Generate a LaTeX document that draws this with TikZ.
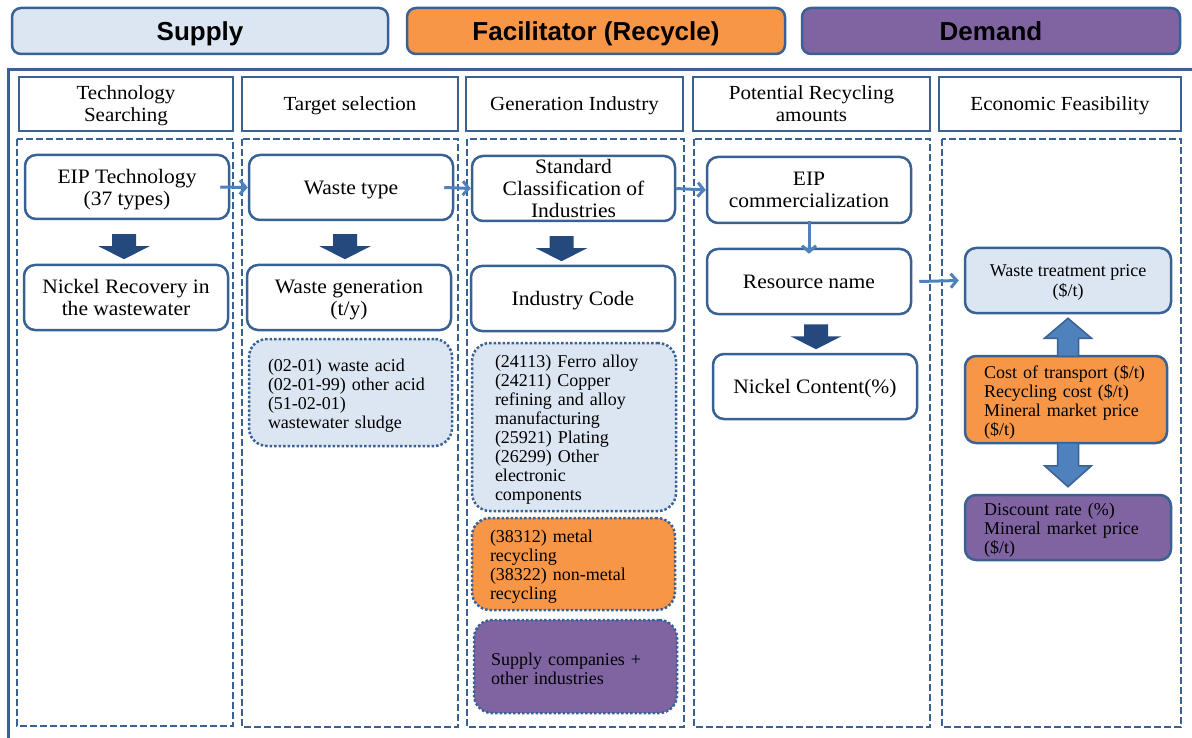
\documentclass[tikz,border=0pt]{standalone}
\usepackage{fontspec}
\setmainfont{Liberation Serif}
\setsansfont{Liberation Sans}
\newfontfamily\bigserif[FakeStretch=1.05]{Liberation Serif}
\usetikzlibrary{arrows.meta,calc}
\definecolor{bdr}{HTML}{3A6194}
\definecolor{lblue}{HTML}{DCE6F2}
\definecolor{orng}{HTML}{F79646}
\definecolor{purp}{HTML}{8064A2}
\definecolor{midblue}{HTML}{4F81BD}
\definecolor{navyc}{HTML}{23497D}
\newcommand\navydown[1]{\fill[navyc] #1 ++(-12,0) -- ++(24,0) -- ++(0,12) -- ++(13.5,0) -- ++(-25.5,13) -- ++(-25.5,-13) -- ++(13.5,0) -- cycle;}
\tikzset{
  hdr/.style={draw=bdr, line width=2.5pt, rounded corners=9pt, inner sep=0pt, text depth=0pt, font=\sffamily\bfseries\fontsize{26}{28}\selectfont},
  colhead/.style={draw=bdr, line width=2.5pt, fill=white, inner sep=0pt, text depth=0pt, align=center, font=\bigserif\fontsize{20}{22}\selectfont},
  colbox/.style={draw=bdr, line width=2pt, dash pattern=on 7pt off 3pt},
  rbox/.style={draw=bdr, line width=2.5pt, rounded corners=11pt, fill=white, inner sep=0pt, text depth=0pt, align=center, font=\bigserif\fontsize{20.5}{22}\selectfont},
  sbox/.style={draw=bdr, line width=2.5pt, rounded corners=11pt, inner sep=0pt, font=\fontsize{18}{19}\selectfont},
  lbox/.style={draw=bdr, line width=2.5pt, dash pattern=on 2.5pt off 2pt, rounded corners=18pt, font=\fontsize{18}{19}\selectfont, align=left},
  flowarr/.style={color=midblue, line width=3pt, -{Straight Barb[length=6pt,width=14pt]}},
  barrow/.style={fill=midblue, draw=bdr, line width=1.5pt},
  frame/.style={draw=bdr, line width=3pt}
}
\begin{document}
\begin{tikzpicture}[x=1pt,y=-1pt]
\useasboundingbox (0,0) rectangle (1192,738);
% top headers
\node[hdr, fill=lblue, minimum width=376, minimum height=46] (sup) at (200,31) {Supply};
\node[hdr, fill=orng, minimum width=378, minimum height=46] (fac) at (596,31) {Facilitator (Recycle)};
\node[hdr, fill=purp, minimum width=378, minimum height=46] (dem) at (991,31) {Demand};
% outer frame
\draw[frame] (1194,70) -- (8,70) -- (8,740);
% column headers
\node[colhead, minimum width=214, minimum height=54] (h1) at (126,104) {Technology\\Searching};
\node[colhead, minimum width=216, minimum height=54] (h2) at (350,104) {Target selection};
\node[colhead, minimum width=217, minimum height=54] (h3) at (574.5,104) {Generation Industry};
\node[colhead, minimum width=237, minimum height=54] (h4) at (811.5,104) {Potential Recycling\\amounts};
\node[colhead, minimum width=242, minimum height=54] (h5) at (1060,104) {Economic Feasibility};
% dashed columns
\draw[colbox] (17,139) rectangle (233,726);
\draw[colbox] (242,139) rectangle (458,727);
\draw[colbox] (467,139) rectangle (684,727);
\draw[colbox] (694,139) rectangle (930,727);
\draw[colbox] (942,139) rectangle (1181,727);
% column 1
\node[rbox, minimum width=204, minimum height=64] (eip) at (127,187) {EIP Technology\\(37 types)};
\node[rbox, minimum width=204, minimum height=65] (nick) at (126,297.5) {Nickel Recovery in\\the wastewater};
% column 2
\node[rbox, minimum width=204, minimum height=65] (wtype) at (351,187.5) {Waste type};
\node[rbox, minimum width=204, minimum height=65] (wgen) at (349,297.5) {Waste generation\\(t/y)};
\node[lbox, fill=lblue, minimum width=203, minimum height=107, text width=165, text depth=55pt] (wlist) at (350.5,392.5)
 {(02-01) waste acid\\(02-01-99) other acid\\(51-02-01)\\wastewater sludge};
% column 3
\node[rbox, minimum width=203, minimum height=65] (sci) at (573.5,188.5) {Standard\\Classification of\\Industries};
\node[rbox, minimum width=204, minimum height=65] (icode) at (573,298.5) {Industry Code};
\node[lbox, fill=lblue, minimum width=204, minimum height=168, text width=158, text depth=131pt] (ilist) at (574,427)
 {(24113) Ferro alloy\\(24211) Copper\\refining and alloy\\manufacturing\\(25921) Plating\\(26299) Other\\electronic\\components};
\node[lbox, fill=orng, minimum width=203, minimum height=92, text width=167, text depth=55pt] (olist) at (573.5,564)
 {(38312) metal\\recycling\\(38322) non-metal\\recycling};
\node[lbox, fill=purp, minimum width=203, minimum height=93, text width=169, text depth=14pt] (plist) at (575.5,666.5)
 {Supply companies +\\other industries};
% column 4
\node[rbox, minimum width=204, minimum height=66] (eipc) at (809,190) {EIP\\commercialization};
\node[rbox, minimum width=204, minimum height=65] (rname) at (809,281.5) {Resource name};
\node[rbox, minimum width=204, minimum height=65] (ncont) at (815,386.5) {Nickel Content(\%)};
% column 5
\node[sbox, fill=lblue, minimum width=206, minimum height=65, align=center, text depth=0pt, font=\fontsize{18}{20}\selectfont] (wtp) at (1068,280.5) {Waste treatment price\\(\$/t)};
\node[sbox, fill=orng, minimum width=202, minimum height=87, align=left, text width=164, text depth=55pt] (cost) at (1066,399.5)
 {Cost of transport (\$/t)\\Recycling cost (\$/t)\\Mineral market price\\(\$/t)};
\node[sbox, fill=purp, minimum width=206, minimum height=65, align=left, text width=168, text depth=36pt] (disc) at (1068,527.5)
 {Discount rate (\%)\\Mineral market price\\(\$/t)};
% navy block arrows
\navydown{($(eip.south)+(-3,14)$)}
\navydown{($(wtype.south)+(-6,13)$)}
\navydown{($(sci.south)+(-12,14)$)}
\navydown{($(rname.south)+(7,9)$)}
% flow arrows
\draw[flowarr] ([xshift=-10]eip.east) -- (wtype.west);
\draw[flowarr] ([xshift=-10]wtype.east) -- (sci.west);
\draw[flowarr] (sci.east) -- (eipc.west);
\draw[flowarr] ([yshift=3]eipc.south) -- ([yshift=-6]rname.north);
\draw[flowarr] ([xshift=7]rname.east) -- ([xshift=-5]wtp.west);
% economic double arrows
\draw[barrow] ($(wtp.south)+(0,4)$) -- ++(23.5,20) -- ++(-13,0) -- ++(0,18) -- ++(-21,0) -- ++(0,-18) -- ++(-13,0) -- cycle;
\draw[barrow] ($(disc.north)+(0,-7)$) -- ++(23.5,-21) -- ++(-13,0) -- ++(0,-23) -- ++(-21,0) -- ++(0,23) -- ++(-13,0) -- cycle;
\end{tikzpicture}
\end{document}
